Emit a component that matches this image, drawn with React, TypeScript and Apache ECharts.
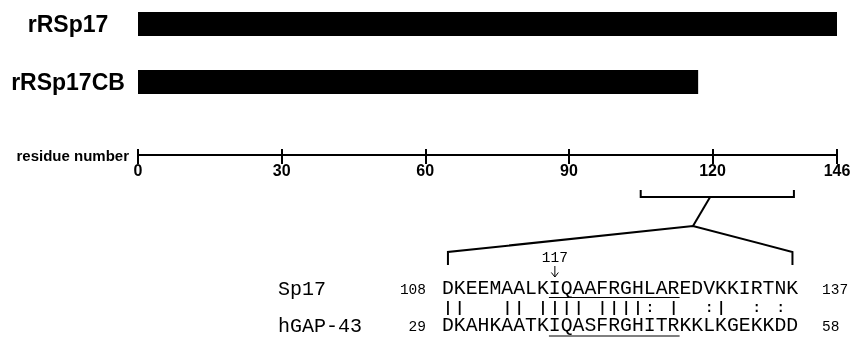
import React, { useEffect, useRef } from "react";
import * as echarts from "echarts";

// ---- data ----
const constructs = ["rRSp17", "rRSp17CB"];
const constructEnds = [146, 117];
const axisTicks = [0, 30, 60, 90, 120, 146];
const axisMin = 0;
const axisMax = 146;
const axisName = "residue number";
const bracketRange = [105, 137];
const bracketStem = 119.5;
const seqNames = ["Sp17", "hGAP-43"];
const seqStarts = [108, 29];
const seqEnds = [137, 58];
const sequences = [
  "DKEEMAALKIQAAFRGHLAREDVKKIRTNK",
  "DKAHKAATKIQASFRGHITRKKLKGEKKDD",
];
const matchLine = "||   || |||| ||||: |  :|  : : ";
const underlineRange = [9, 19];
const markedIndex = 9;
const markedResidue = "117";

const MONO = "'Liberation Mono', 'DejaVu Sans Mono', monospace";
const SANS = "'Liberation Sans', Arial, sans-serif";

export default function App() {
  const ref = useRef<HTMLDivElement>(null);
  useEffect(() => {
    if (!ref.current) return;
    const chart = echarts.init(ref.current, undefined, { renderer: "svg" });
    const tickCommon = { lineStyle: { color: "#000", width: 2 } };
    chart.setOption({
      animation: false,
      grid: [
        { left: 138, right: 17, top: 24, height: 58 },
        { left: 138, right: 17, top: 155, height: 0 },
      ],
      xAxis: [
        { gridIndex: 0, type: "value", min: axisMin, max: axisMax, show: false },
        {
          gridIndex: 1,
          type: "value",
          min: axisMin,
          max: axisMax,
          position: "bottom",
          name: axisName,
          nameLocation: "start",
          nameGap: 9,
          nameTextStyle: { fontFamily: SANS, fontWeight: "bold", fontSize: 15, color: "#000", verticalAlign: "middle" },
          axisLine: { show: true, lineStyle: { color: "#000", width: 2 } },
          axisTick: { show: true, customValues: axisTicks, length: 9, ...tickCommon },
          axisLabel: { customValues: axisTicks, fontFamily: SANS, fontWeight: "bold", fontSize: 16, color: "#000", margin: 7 },
          splitLine: { show: false },
        },
        {
          gridIndex: 1,
          type: "value",
          min: axisMin,
          max: axisMax,
          position: "top",
          axisLine: { show: false },
          axisTick: { show: true, customValues: axisTicks, length: 6, ...tickCommon },
          axisLabel: { show: false },
          splitLine: { show: false },
        },
      ],
      yAxis: [
        {
          gridIndex: 0,
          type: "category",
          data: constructs,
          inverse: true,
          boundaryGap: false,
          axisLine: { show: false },
          axisTick: { show: false },
          splitLine: { show: false },
          axisLabel: { fontFamily: SANS, fontWeight: "bold", fontSize: 23, color: "#000", align: "center", margin: 70 },
        },
        { gridIndex: 1, type: "value", show: false },
      ],
      series: [
        {
          type: "bar",
          xAxisIndex: 0,
          yAxisIndex: 0,
          data: constructEnds,
          barWidth: 24,
          itemStyle: { color: "#000" },
          silent: true,
        },
      ],
    });

    const xPix = (v: number) => chart.convertToPixel({ xAxisIndex: 1 }, v) as number;
    const seqFont = 19.8;
    const cw = seqFont * 0.6;
    const seqLeft = 442;
    const rowY = [289, 326];
    const matchY = 307.5;
    const underlineY = [297.5, 336];
    const apex = [693, 226];
    const bY = 197;
    const b0 = xPix(bracketRange[0]);
    const b1 = xPix(bracketRange[1]);
    const cc = (i: number) => seqLeft + (i + 0.5) * cw;
    const lastIdx = sequences[0].length - 1;
    const stroke = { stroke: "#000", lineWidth: 2, fill: null };

    const elements: any[] = [
      { type: "polyline", shape: { points: [[b0, bY - 7], [b0, bY], [b1, bY], [b1, bY - 7]] }, style: stroke },
      { type: "line", shape: { x1: xPix(bracketStem), y1: bY, x2: apex[0], y2: apex[1] }, style: stroke },
      {
        type: "polyline",
        shape: { points: [[cc(0), 265], [cc(0), 252], apex, [cc(lastIdx), 252], [cc(lastIdx), 265]] },
        style: stroke,
      },
    ];
    sequences.forEach((s, r) => {
      elements.push({
        type: "text", x: 278, y: rowY[r],
        style: { text: seqNames[r], fontFamily: MONO, fontSize: 20, fill: "#000", align: "left", verticalAlign: "middle" },
      });
      elements.push({
        type: "text", x: 426, y: rowY[r] + 1,
        style: { text: String(seqStarts[r]), fontFamily: MONO, fontSize: 14.5, fill: "#000", align: "right", verticalAlign: "middle" },
      });
      elements.push({
        type: "text", x: seqLeft, y: rowY[r],
        style: { text: s, fontFamily: MONO, fontSize: seqFont, fill: "#000", align: "left", verticalAlign: "middle" },
      });
      elements.push({
        type: "text", x: 822, y: rowY[r] + 1,
        style: { text: String(seqEnds[r]), fontFamily: MONO, fontSize: 14.5, fill: "#000", align: "left", verticalAlign: "middle" },
      });
      elements.push({
        type: "line",
        shape: { x1: seqLeft + underlineRange[0] * cw, y1: underlineY[r], x2: seqLeft + (underlineRange[1] + 1) * cw, y2: underlineY[r] },
        style: { stroke: "#000", lineWidth: 1.2 },
      });
    });
    matchLine.split("").forEach((ch, i) => {
      if (ch === " ") return;
      elements.push({
        type: "text", x: cc(i), y: matchY,
        style: { text: ch, fontFamily: MONO, fontSize: 14, fontWeight: "bold", fill: "#000", align: "center", verticalAlign: "middle" },
      });
    });
    const ax = cc(markedIndex);
    elements.push({
      type: "text", x: ax, y: 258,
      style: { text: markedResidue, fontFamily: MONO, fontSize: 14.5, fill: "#000", align: "center", verticalAlign: "middle" },
    });
    elements.push({ type: "line", shape: { x1: ax, y1: 266, x2: ax, y2: 277 }, style: { stroke: "#000", lineWidth: 1 } });
    elements.push({ type: "polyline", shape: { points: [[ax - 3.5, 272.5], [ax, 277], [ax + 3.5, 272.5]] }, style: { stroke: "#000", lineWidth: 1, fill: null } });

    chart.setOption({ graphic: { elements } });
    return () => chart.dispose();
  }, []);
  return <div ref={ref} style={{ position: "fixed", left: 0, top: 0, width: 854, height: 339 }} />;
}
